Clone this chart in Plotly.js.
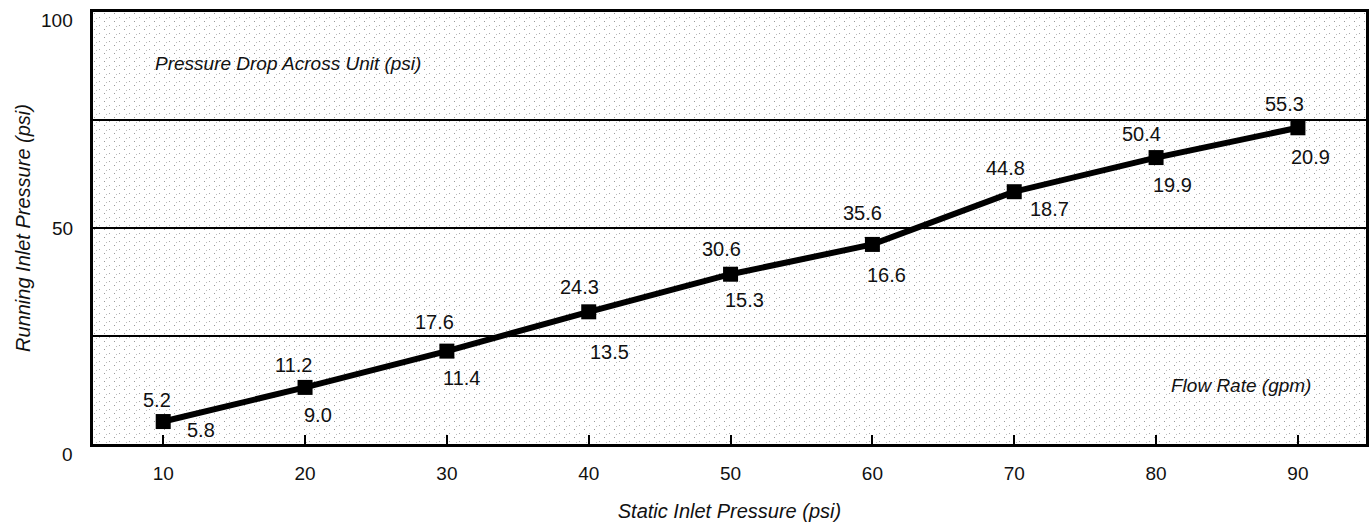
<!DOCTYPE html>
<html>
<head>
<meta charset="utf-8">
<script src="https://cdn.plot.ly/plotly-3.0.1.min.js"></script>
<style>
  html, body { margin: 0; padding: 0; background: #fff; }
  #chart { width: 1369px; height: 525px; }
</style>
</head>
<body>
<div id="chart"></div>
<script>
// ---- data ----
const staticInlet = [10, 20, 30, 40, 50, 60, 70, 80, 90];
const runningInlet = [5.2, 13.1, 21.5, 30.6, 39.3, 46.2, 58.4, 66.3, 73.2];
const pressureDropLabels = ["5.2", "11.2", "17.6", "24.3", "30.6", "35.6", "44.8", "50.4", "55.3"];
const flowRateLabels = ["5.8", "9.0", "11.4", "13.5", "15.3", "16.6", "18.7", "19.9", "20.9"];
const xTickVals = [10, 20, 30, 40, 50, 60, 70, 80, 90];
const yTickVals = [0, 50, 100];
const yTickText = ["0", "50", "100"];

// label offsets (pixels), layout only
const dropOffsets = [[-6,-22],[-12,-22],[-12,-29],[-9,-25],[-9,-25],[-10,-31],[-9,-24],[-15,-24],[-13,-24]];
const flowOffsets = [[38,8],[13,28],[15,27],[21,40],[14,26],[14,31],[35,17],[16,27],[13,29]];
const yTickLabelDrop = [10, 0, 8];

const FONT = "'Liberation Sans', Arial, sans-serif";

// stipple background
const svg = `<svg xmlns='http://www.w3.org/2000/svg' width='1273' height='432'>
<defs><pattern id='p' width='10' height='8' patternUnits='userSpaceOnUse'>
<rect x='1' y='1' width='1' height='1' fill='#999'/>
<rect x='6' y='5' width='1' height='1' fill='#aaa'/>
<rect x='3' y='6' width='1' height='1' fill='#bbb'/>
</pattern></defs>
<rect width='1273' height='432' fill='url(#p)'/></svg>`;
const bgSrc = 'data:image/svg+xml;charset=utf-8,' + encodeURIComponent(svg);

const annotations = [];
staticInlet.forEach((x, i) => {
  annotations.push({
    x: x, y: runningInlet[i], xref: 'x', yref: 'y', text: pressureDropLabels[i],
    showarrow: false, xshift: dropOffsets[i][0], yshift: -dropOffsets[i][1],
    font: {family: FONT, size: 20, color: '#111'}
  });
  annotations.push({
    x: x, y: runningInlet[i], xref: 'x', yref: 'y', text: flowRateLabels[i],
    showarrow: false, xshift: flowOffsets[i][0], yshift: -flowOffsets[i][1],
    font: {family: FONT, size: 20, color: '#111'}
  });
});
// y-axis tick labels
yTickVals.forEach((v, i) => {
  annotations.push({
    xref: 'paper', yref: 'y', x: 0, y: v, xanchor: 'right', yanchor: 'middle',
    xshift: -18, yshift: -yTickLabelDrop[i], text: yTickText[i], showarrow: false,
    font: {family: FONT, size: 19, color: '#111'}
  });
});
annotations.push({
  xref: 'paper', yref: 'paper', x: 0.047, y: 0.88, xanchor: 'left', yanchor: 'middle',
  text: '<i>Pressure Drop Across Unit (psi)</i>', showarrow: false,
  font: {family: FONT, size: 19, color: '#111'}
});
annotations.push({
  xref: 'paper', yref: 'paper', x: 0.958, y: 0.135, xanchor: 'right', yanchor: 'middle',
  text: '<i>Flow Rate (gpm)</i>', showarrow: false,
  font: {family: FONT, size: 19, color: '#111'}
});

const trace = {
  x: staticInlet, y: runningInlet, type: 'scatter', mode: 'lines+markers',
  line: {color: '#000', width: 6},
  marker: {symbol: 'square', size: 15, color: '#000'},
  hoverinfo: 'skip', cliponaxis: false
};

const layout = {
  width: 1369, height: 525,
  margin: {l: 93, r: 3, t: 12, b: 81},
  paper_bgcolor: '#fff', plot_bgcolor: '#fff',
  showlegend: false,
  font: {family: FONT, size: 19, color: '#111'},
  images: [{source: bgSrc, xref: 'paper', yref: 'paper', x: 0, y: 1, sizex: 1, sizey: 1,
            sizing: 'stretch', layer: 'below', xanchor: 'left', yanchor: 'top'}],
  xaxis: {
    range: [5.05, 94.8], tickvals: xTickVals, ticktext: xTickVals.map(String),
    ticks: 'inside', ticklen: 9, tickwidth: 2, tickcolor: '#000',
    showgrid: false, zeroline: false,
    showline: true, linecolor: '#000', linewidth: 3, mirror: true,
    tickfont: {family: FONT, size: 19, color: '#111'},
    ticklabelstandoff: 10,
    title: {text: '<i>Static Inlet Pressure (psi)</i>', font: {family: FONT, size: 20, color: '#111'}, standoff: 22}
  },
  yaxis: {
    range: [0, 100], tickvals: yTickVals, showticklabels: false,
    ticks: '', showgrid: true, gridcolor: '#000', gridwidth: 1.5,
    minor: {dtick: 25, showgrid: true, gridcolor: '#000', gridwidth: 1.5, ticks: ''},
    zeroline: false, showline: true, linecolor: '#000', linewidth: 3, mirror: true,
    title: {text: '<i>Running Inlet Pressure (psi)</i>', font: {family: FONT, size: 20, color: '#111'}, standoff: 55}
  },
  annotations: annotations
};

Plotly.newPlot('chart', [trace], layout, {staticPlot: true, displayModeBar: false});
</script>
</body>
</html>
